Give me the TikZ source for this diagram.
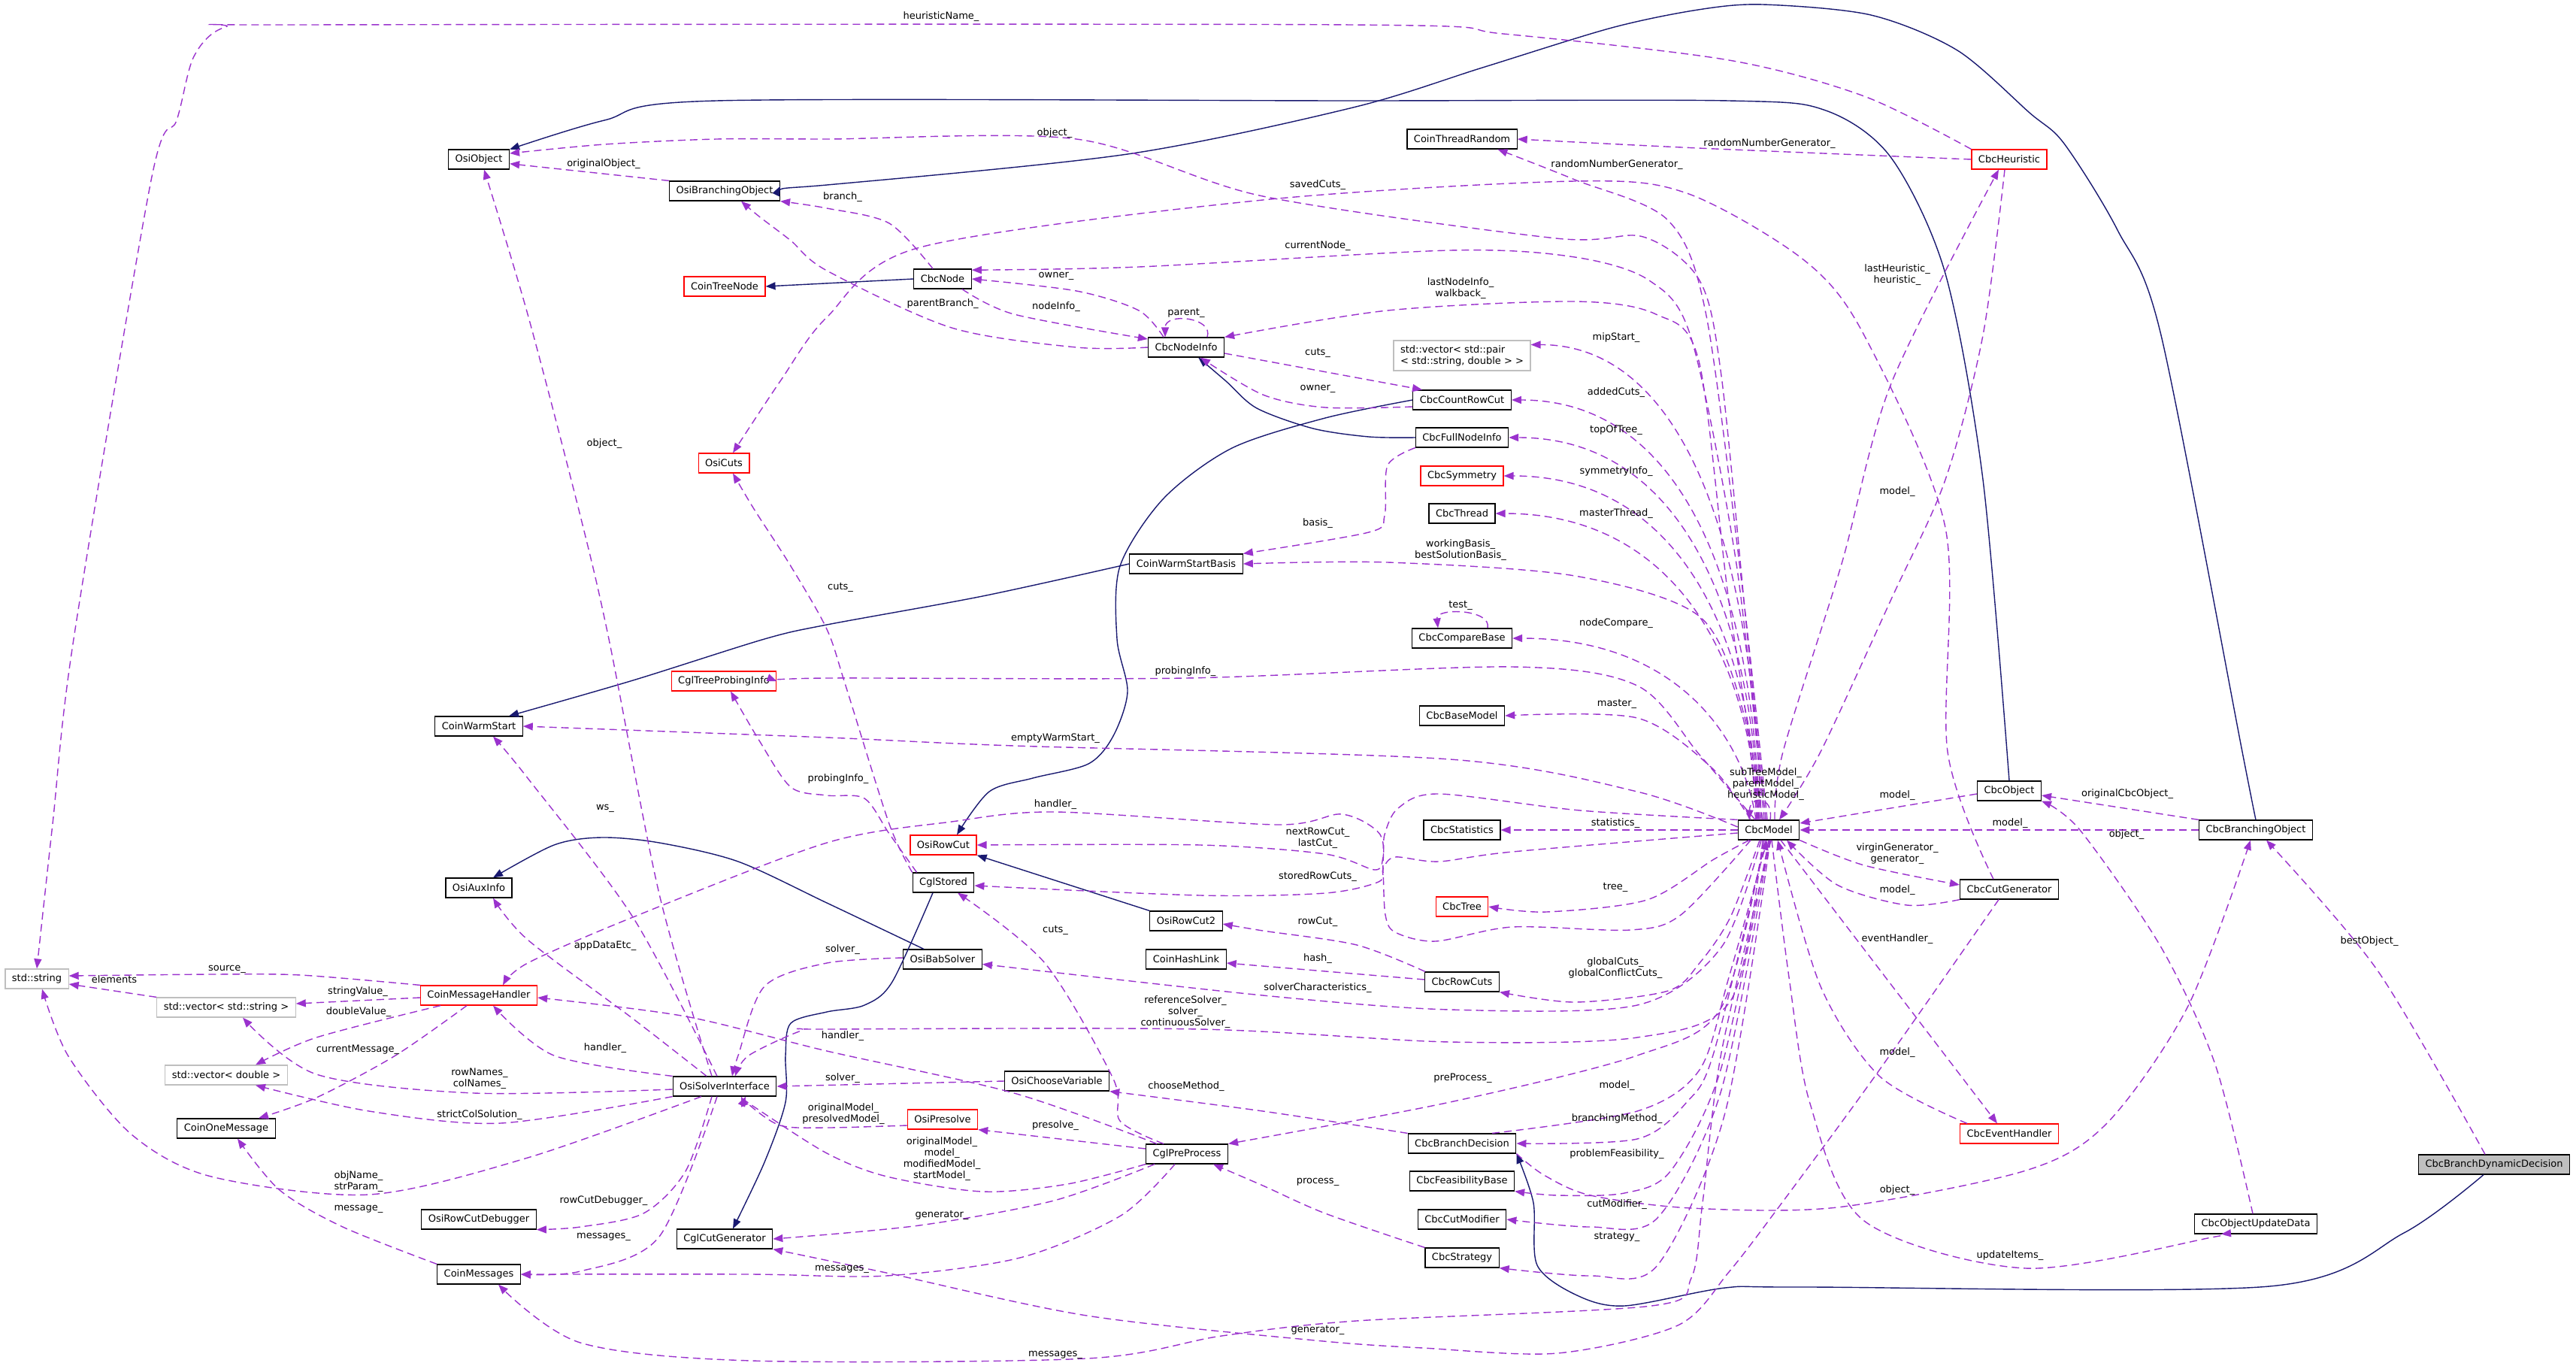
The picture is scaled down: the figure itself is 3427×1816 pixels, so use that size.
\documentclass[tikz,border=0pt]{standalone}
\usepackage{fontspec}
\setmainfont{DejaVu Sans}
\usetikzlibrary{arrows.meta}

\definecolor{depcol}{HTML}{9A32CD}
\definecolor{inhcol}{HTML}{191970}
\definecolor{extcol}{HTML}{BFBFBF}

\tikzset{
  cls/.style={draw=black, line width=0.6pt, fill=white, font=\fontsize{6.5}{7.5}\selectfont,
    inner xsep=4.5pt, inner ysep=0pt, minimum height=13pt},
  undoc/.style={cls, draw=red},
  ext/.style={cls, draw=extcol},
  focus/.style={cls, fill=extcol},
  lbl/.style={font=\fontsize{6.5}{7.5}\selectfont, align=center, inner sep=0pt},
  dep/.style={depcol, line width=0.7pt, dash pattern=on 5pt off 3pt, -{Triangle[length=6.5pt,width=5pt]}},
  inh/.style={inhcol, line width=0.7pt, -{Triangle[length=6.5pt,width=5pt]}},
}

\begin{document}
\begin{tikzpicture}[x=0.5pt, y=-0.5pt]
\useasboundingbox (0,0) rectangle (3427,1816);

% Classes
\node[cls] (OsiObject) at (637,212) {OsiObject};
\node[cls] (OsiBranchingObject) at (964,254) {OsiBranchingObject};
\node[undoc] (CoinTreeNode) at (964,381) {CoinTreeNode};
\node[undoc] (OsiCuts) at (963,616) {OsiCuts};
\node[undoc] (CglTreeProbingInfo) at (963,906) {CglTreeProbingInfo};
\node[cls] (CoinWarmStart) at (637,966) {CoinWarmStart};
\node[cls] (OsiAuxInfo) at (637,1181) {OsiAuxInfo};
\node[ext] (stdstr) at (49,1302) {std::string};
\node[ext] (vecstr) at (301,1340) {std::vector< std::string >};
\node[undoc] (CoinMessageHandler) at (637,1324) {CoinMessageHandler};
\node[ext] (vecdbl) at (301,1430) {std::vector< double >};
\node[cls] (CoinOneMessage) at (301,1501) {CoinOneMessage};
\node[cls] (OsiSolverInterface) at (964,1445) {OsiSolverInterface};
\node[cls] (OsiRowCutDebugger) at (637,1622) {OsiRowCutDebugger};
\node[cls] (CglCutGenerator) at (964,1648) {CglCutGenerator};
\node[cls] (CoinMessages) at (637,1695) {CoinMessages};
\node[cls] (CoinThreadRandom) at (1945,185) {CoinThreadRandom};
\node[cls] (CbcNode) at (1254,371) {CbcNode};
\node[cls] (CbcNodeInfo) at (1578,462) {CbcNodeInfo};
\node[ext, align=left, minimum height=20pt] (vecpair) at (1945,473) {std::vector< std::pair\\< std::string, double > >};
\node[cls] (CbcCountRowCut) at (1945,532) {CbcCountRowCut};
\node[cls] (CbcFullNodeInfo) at (1945,582) {CbcFullNodeInfo};
\node[undoc] (CbcSymmetry) at (1945,633) {CbcSymmetry};
\node[cls] (CbcThread) at (1945,683) {CbcThread};
\node[cls] (CoinWarmStartBasis) at (1578,750) {CoinWarmStartBasis};
\node[cls] (CbcCompareBase) at (1945,849) {CbcCompareBase};
\node[cls] (CbcBaseModel) at (1945,952) {CbcBaseModel};
\node[undoc] (OsiRowCut) at (1255,1124) {OsiRowCut};
\node[cls] (CbcStatistics) at (1945,1104) {CbcStatistics};
\node[cls] (CbcModel) at (2353,1104) {CbcModel};
\node[cls] (CglStored) at (1255,1174) {CglStored};
\node[undoc] (CbcTree) at (1945,1206) {CbcTree};
\node[cls] (OsiRowCut2) at (1578,1225) {OsiRowCut2};
\node[cls] (OsiBabSolver) at (1254,1276) {OsiBabSolver};
\node[cls] (CoinHashLink) at (1578,1276) {CoinHashLink};
\node[cls] (CbcRowCuts) at (1945,1306) {CbcRowCuts};
\node[cls] (OsiChooseVariable) at (1406,1438) {OsiChooseVariable};
\node[undoc] (OsiPresolve) at (1254,1489) {OsiPresolve};
\node[cls] (CglPreProcess) at (1579,1535) {CglPreProcess};
\node[cls] (CbcBranchDecision) at (1945,1521) {CbcBranchDecision};
\node[cls] (CbcFeasibilityBase) at (1945,1571) {CbcFeasibilityBase};
\node[cls] (CbcCutModifier) at (1945,1622) {CbcCutModifier};
\node[cls] (CbcStrategy) at (1945,1673) {CbcStrategy};
\node[undoc] (CbcHeuristic) at (2673,212) {CbcHeuristic};
\node[cls] (CbcObject) at (2673,1052) {CbcObject};
\node[cls] (CbcBranchingObject) at (3001,1104) {CbcBranchingObject};
\node[cls] (CbcCutGenerator) at (2673,1183) {CbcCutGenerator};
\node[undoc] (CbcEventHandler) at (2673,1508) {CbcEventHandler};
\node[focus] (CbcBranchDynamicDecision) at (3318,1549) {CbcBranchDynamicDecision};
\node[cls] (CbcObjectUpdateData) at (3001,1628) {CbcObjectUpdateData};

% Inheritance
\draw[inh] plot[smooth] coordinates {(CbcObject.north) (2638,638) (2588,364) (2516,210) (2429,147) (2300,134) (1800,134) (953,134) (804,160) (OsiObject.18)};
\draw[inh] plot[smooth] coordinates {(CbcBranchingObject.north) (2983,1000) (2875,446) (2817,306) (2746,191) (2700,150) (2604,67) (2489,20) (2345,6) (2259,13) (2144,37) (1972,90) (1800,143) (1500,205) (1100,246) (OsiBranchingObject.5)};
\draw[inh] (CbcNode.west) -- (CoinTreeNode.east);
\draw[inh] plot[smooth] coordinates {(CbcFullNodeInfo.west) (1821,581) (1747,570) (1672,543) (1631,507) (CbcNodeInfo.-40)};
\draw[inh] plot[smooth] coordinates {(CbcCountRowCut.west) (1763,556) (1639,596) (1548,663) (1490,753) (1486,850) (1500,920) (1481,979) (1448,1016) (1374,1035) (1316,1053) ([xshift=9pt]OsiRowCut.north)};
\draw[inh] (OsiRowCut2.north west) -- (OsiRowCut.south east);
\draw[inh] plot[smooth] coordinates {([xshift=-12.5pt]OsiBabSolver.north) (1100,1201) (982,1146) (877,1121) (800,1114) (737,1124) ([xshift=9.5pt]OsiAuxInfo.north)};
\draw[inh] plot[smooth] coordinates {([xshift=-7pt]CglStored.south) (1187,1306) (1150,1337) (1100,1346) (1052,1361) (1045,1404) (1045,1466) (1017,1546) ([xshift=5.5pt]CglCutGenerator.north)};
\draw[inh] plot[smooth] coordinates {(CoinWarmStartBasis.west) (1307,793) (1100,831) (1017,850) (842,905) ([xshift=20pt]CoinWarmStart.north)};
\draw[inh] plot[smooth] coordinates {([xshift=-7pt]CbcBranchDynamicDecision.south) (3198,1640) (3019,1711) (2400,1712) (2295,1713) (2161,1737) (2098,1723) (2045,1683) (2040,1600) (CbcBranchDecision.south east)};

% CbcModel, upper members
\draw[dep] plot[smooth] coordinates {([xshift=-2pt]CbcModel.north) (2325,850) (2290,500) (2261,373) (2186,315) (2070,317) (1680,261) (1432,185) (1100,185) (953,185) (804,192) (OsiObject.11)};
\draw[dep] plot[smooth] coordinates {([xshift=-1pt]CbcModel.north) (2320,800) (2270,420) (2219,293) (2095,239) (CoinThreadRandom.-16)};
\draw[dep] plot[smooth] coordinates {([xshift=-3pt]CbcModel.north) (2310,750) (2250,450) (2194,373) (2095,342) (1929,333) (1515,355) (CbcNode.17)};
\draw[dep] plot[smooth] coordinates {([xshift=-4pt]CbcModel.north) (2300,800) (2260,480) (2203,418) (2095,401) (1846,413) (CbcNodeInfo.north east)};
\draw[dep] ([xshift=-5pt]CbcModel.north) .. controls (2330,700) and (2230,458) .. (vecpair.9);
\draw[dep] ([xshift=-6pt]CbcModel.north) .. controls (2330,760) and (2230,532) .. (CbcCountRowCut.east);
\draw[dep] ([xshift=-6.5pt]CbcModel.north) .. controls (2330,800) and (2230,582) .. (CbcFullNodeInfo.east);
\draw[dep] ([xshift=-7pt]CbcModel.north) .. controls (2330,840) and (2230,633) .. (CbcSymmetry.east);
\draw[dep] ([xshift=-7.5pt]CbcModel.north) .. controls (2330,880) and (2230,683) .. (CbcThread.east);
\draw[dep] plot[smooth] coordinates {([xshift=-8pt]CbcModel.north) (2320,950) (2261,820) (2095,766) (1846,748) (CoinWarmStartBasis.east)};
\draw[dep] ([xshift=-8.5pt]CbcModel.north) .. controls (2320,980) and (2230,849) .. (CbcCompareBase.east);
\draw[dep] plot[smooth] coordinates {([xshift=-9pt]CbcModel.north) (2261,1004) (2178,912) (2012,887) (1577,902) (1100,902) (CglTreeProbingInfo.east)};
\draw[dep] plot[smooth] coordinates {([xshift=-12pt]CbcModel.north) (2278,1022) (2178,955) (CbcBaseModel.east)};
\draw[dep] plot[smooth] coordinates {([yshift=2pt]CbcModel.west) (2178,1053) (1929,1010) (1349,992) (1100,981) (CoinWarmStart.east)};
\draw[dep] ([xshift=1pt]CbcModel.north) .. controls (2360,1058) and (2328,1058) .. ([xshift=-13pt]CbcModel.north);
\draw[dep] plot[smooth] coordinates {([xshift=4pt]CbcModel.north) (2372,1000) (2450,750) (2516,510) ([xshift=-7pt]CbcHeuristic.south)};
\draw[dep] plot[smooth] coordinates {([xshift=-3pt]CbcHeuristic.south) (2638,446) (2588,638) (2516,797) (2422,1000) ([xshift=7pt]CbcModel.north)};
\draw[dep] plot[smooth] coordinates {(CbcHeuristic.north west) (2480,128) (2300,80) (2000,45) (1800,33) (400,33) (300,36) (258,75) (235,160) (201,240) (98,850) (70,1096) (stdstr.north)};
\draw[dep] plot[smooth] coordinates {(CbcHeuristic.west) (2259,197) (CoinThreadRandom.east)};
\draw[dep] plot[smooth] coordinates {([xshift=-10.5pt]CbcCutGenerator.north) (2591,1000) (2588,702) (2480,446) (2400,346) (2244,257) (2095,241) (1680,266) (1224,329) (1100,422) (1038,507) ([xshift=6pt]OsiCuts.north)};

% CbcModel, row cuts and handler loops
\draw[dep] plot[smooth] coordinates {([xshift=-12pt]CbcModel.south) (2236,1217) (2169,1237) (2012,1233) (1910,1252) (1856,1240) (1843,1217) (1840,1160) (1836,1110) (1785,1083) (1700,1097) (1404,1080) (1266,1093) (1100,1121) (842,1220) (702,1281) ([xshift=16pt]CoinMessageHandler.north)};
\draw[dep] plot[smooth] coordinates {(CbcModel.north west) (2102,1078) (1914,1056) (1860,1075) (1842,1110) (1840,1140) (1829,1157) (1763,1136) (1597,1124) (OsiRowCut.east)};
\draw[dep] plot[smooth] coordinates {([yshift=-2pt]CbcModel.west) (2012,1133) (1914,1146) (1856,1140) (1840,1155) (1834,1173) (1763,1188) (1597,1191) ([yshift=-2pt]CglStored.east)};
\draw[dep] (CbcModel.west) -- (CbcStatistics.east);

% CbcModel, lower members
\draw[dep] plot[smooth] coordinates {([xshift=-13pt]CbcModel.south) (2280,1143) (2191,1197) (2057,1213) (CbcTree.east)};
\draw[dep] plot[smooth] coordinates {([xshift=-6pt]CbcModel.south) (2302,1220) (2261,1281) (2219,1318) (2095,1333) (CbcRowCuts.south east)};
\draw[dep] plot[smooth] coordinates {([xshift=-5pt]CbcModel.south) (2290,1260) (2178,1337) (1929,1343) (1680,1324) (OsiBabSolver.-7)};
\draw[dep] plot[smooth] coordinates {([xshift=-4pt]CbcModel.south) (2303,1330) (2178,1380) (1929,1386) (1597,1369) (1100,1369) (1066,1371) (996,1404) ([xshift=7pt]OsiSolverInterface.north)};
\draw[dep] plot[smooth] coordinates {([xshift=-3pt]CbcModel.south) (2290,1340) (2178,1404) (1929,1466) (CglPreProcess.north east)};
\draw[dep] plot[smooth] coordinates {([xshift=-2pt]CbcModel.south) (2280,1400) (2244,1466) (2178,1515) (CbcBranchDecision.east)};
\draw[dep] plot[smooth] coordinates {([xshift=20pt]CbcBranchDecision.north) (2178,1478) (2261,1423) (2300,1300) ([xshift=-1pt]CbcModel.south)};
\draw[dep] plot[smooth] coordinates {(CbcModel.south) (2290,1420) (2223,1557) (2161,1587) (2072,1590) (CbcFeasibilityBase.south east)};
\draw[dep] plot[smooth] coordinates {([xshift=0.5pt]CbcModel.south) (2290,1450) (2205,1620) (2116,1632) (CbcCutModifier.east)};
\draw[dep] plot[smooth] coordinates {([xshift=1pt]CbcModel.south) (2295,1480) (2205,1683) (2116,1697) (CbcStrategy.south east)};
\draw[dep] plot[smooth] coordinates {([xshift=1.5pt]CbcModel.south) (2290,1400) (2265,1600) (2250,1700) (2197,1737) (1804,1757) (1625,1777) (1446,1807) (1000,1810) (772,1786) ([xshift=13pt]CoinMessages.south)};
\draw[dep] plot[smooth] coordinates {([xshift=2pt]CbcModel.south) (2380,1300) (2408,1468) (2480,1624) (2695,1687) (2947,1645) ([xshift=-23pt]CbcObjectUpdateData.south)};
\draw[dep] ([xshift=8pt]CbcModel.south) -- ([xshift=-8pt]CbcEventHandler.north);
\draw[dep] plot[smooth] coordinates {([xshift=-28pt]CbcEventHandler.north) (2501,1432) (2422,1312) ([xshift=6pt]CbcModel.south)};
\draw[dep] plot[smooth] coordinates {(CbcCutGenerator.south west) (2537,1204) (2444,1177) ([xshift=12pt]CbcModel.south)};
\draw[dep] plot[smooth] coordinates {(CbcModel.south east) (2480,1151) ([yshift=3pt]CbcCutGenerator.west)};

% right hand side
\draw[dep] ([yshift=-2pt]CbcObject.west) -- ([yshift=4.5pt]CbcModel.east);
\draw[dep] (CbcBranchingObject.west) -- (CbcModel.east);
\draw[dep] (CbcBranchingObject.north west) -- ([yshift=-3pt]CbcObject.east);
\draw[dep] plot[smooth] coordinates {([xshift=-2pt]CbcObjectUpdateData.north) (2947,1416) (2875,1260) (2767,1104) (CbcObject.south east)};
\draw[dep] plot[smooth] coordinates {([xshift=-6pt]CbcBranchDynamicDecision.north) (3163,1291) ([xshift=7pt]CbcBranchingObject.south)};
\draw[dep] plot[smooth] coordinates {(CbcBranchDecision.south east) (2054,1563) (2116,1590) (2250,1607) (2444,1606) (2695,1557) (2803,1494) (2911,1338) ([xshift=-3.5pt]CbcBranchingObject.south)};
\draw[dep] plot[smooth] coordinates {([xshift=-7pt]CbcCutGenerator.south) (2494,1432) (2372,1598) (2300,1692) (2232,1763) (2072,1800) (1893,1793) (1750,1783) (1446,1750) (1179,1693) (CglCutGenerator.south east)};

% node tree
\draw[dep] (OsiBranchingObject.north west) -- (OsiObject.-8);
\draw[dep] plot[smooth] coordinates {([xshift=-6.5pt]CbcNode.north) (1183,297) (1100,277) (OsiBranchingObject.south east)};
\draw[dep] plot[smooth] coordinates {(CbcNodeInfo.west) (1432,462) (1266,436) (1100,360) (1052,320) (1010,288) ([xshift=11pt]OsiBranchingObject.south)};
\draw[dep] plot[smooth] coordinates {([xshift=13pt]CbcNode.south) (1349,418) ([yshift=5.5pt]CbcNodeInfo.west)};
\draw[dep] plot[smooth] coordinates {([xshift=-15pt]CbcNodeInfo.north) (1515,413) (1432,387) (CbcNode.east)};
\draw[dep] ([xshift=14pt]CbcNodeInfo.north) .. controls (1615,422) and (1550,415) .. ([xshift=-14pt]CbcNodeInfo.north);
\draw[dep] ([yshift=-4pt]CbcNodeInfo.east) -- ([xshift=-26.5pt]CbcCountRowCut.north);
\draw[dep] plot[smooth] coordinates {([yshift=-4.5pt]CbcCountRowCut.west) (1763,542) (1680,525) ([xshift=9.5pt]CbcNodeInfo.south)};
\draw[dep] plot[smooth] coordinates {(CbcFullNodeInfo.south west) (1846,619) (1842,686) (1821,708) (CoinWarmStartBasis.north east)};
\draw[dep] ([xshift=17pt]CbcCompareBase.north) .. controls (1985,810) and (1910,808) .. ([xshift=-16pt]CbcCompareBase.north);

% cut generation and preprocessing
\draw[dep] plot[smooth] coordinates {(CglStored.north west) (1183,1096) (1125,912) (1100,837) (1052,753) (1003,677) ([xshift=6pt]OsiCuts.south)};
\draw[dep] plot[smooth] coordinates {([xshift=3pt]CglStored.north west) (1183,1109) (1150,1062) (1100,1058) (1052,1047) (1010,985) ([xshift=4.5pt]CglTreeProbingInfo.south)};
\draw[dep] plot[smooth] coordinates {([xshift=-15.5pt]CglPreProcess.north) (1490,1491) (1481,1435) (1390,1281) ([xshift=9.5pt]CglStored.south)};
\draw[dep] ([yshift=3.5pt]CglPreProcess.west) -- (OsiPresolve.south east);
\draw[dep] plot[smooth] coordinates {([xshift=-20pt]CglPreProcess.north) (1349,1454) (1100,1398) (912,1352) ([yshift=-1.5pt]CoinMessageHandler.east)};
\draw[dep] plot[smooth] coordinates {(CglPreProcess.south west) (1420,1575) (1307,1585) (1180,1565) (1100,1534) (1003,1472) ([xshift=11pt]OsiSolverInterface.south)};
\draw[dep] plot[smooth] coordinates {([yshift=-4pt]OsiPresolve.west) (1100,1500) (1038,1497) (996,1469) ([xshift=14pt]OsiSolverInterface.south)};
\draw[dep] (OsiChooseVariable.west) -- (OsiSolverInterface.east);
\draw[dep] plot[smooth] coordinates {([yshift=1pt]OsiBabSolver.west) (1100,1281) (1017,1312) (982,1404) ([xshift=5pt]OsiSolverInterface.north)};
\draw[dep] plot[smooth] coordinates {(CbcBranchDecision.north west) (1680,1478) (OsiChooseVariable.south east)};
\draw[dep] plot[smooth] coordinates {(CbcStrategy.north west) (1763,1614) (1680,1577) ([xshift=17.5pt]CglPreProcess.south)};
\draw[dep] plot[smooth] coordinates {([xshift=-24.5pt]CbcRowCuts.north) (1805,1257) (1680,1238) ([yshift=-2pt]OsiRowCut2.east)};
\draw[dep] ([yshift=1.5pt]CbcRowCuts.west) -- ([yshift=-2.5pt]CoinHashLink.east);
\draw[dep] plot[smooth] coordinates {([xshift=-21.5pt]CglPreProcess.south) (1402,1597) (1223,1630) (CglCutGenerator.east)};
\draw[dep] plot[smooth] coordinates {([xshift=-8pt]CglPreProcess.south) (1491,1617) (1357,1673) (1179,1697) (1000,1695) (CoinMessages.east)};

% solver interface
\draw[dep] plot[smooth] coordinates {([xshift=-8.5pt]OsiSolverInterface.north) (877,1189) (810,850) (772,686) (702,418) ([xshift=3.5pt]OsiObject.south)};
\draw[dep] plot[smooth] coordinates {([xshift=-5pt]OsiSolverInterface.north) (842,1220) (702,1035) ([xshift=9.5pt]CoinWarmStart.south)};
\draw[dep] plot[smooth] coordinates {([xshift=-12pt]OsiSolverInterface.north) (842,1355) (702,1250) ([xshift=9.5pt]OsiAuxInfo.south)};
\draw[dep] plot[smooth] coordinates {(OsiSolverInterface.north west) (737,1404) ([xshift=9.5pt]CoinMessageHandler.south)};
\draw[dep] plot[smooth] coordinates {([yshift=-2pt]OsiSolverInterface.west) (631,1454) (421,1429) ([xshift=11pt]vecstr.south)};
\draw[dep] plot[smooth] coordinates {(OsiSolverInterface.south west) (666,1494) (491,1478) ([xshift=19.5pt]vecdbl.south)};
\draw[dep] plot[smooth] coordinates {([xshift=-15.5pt]OsiSolverInterface.south) (702,1540) (491,1589) (281,1565) (175,1509) (91,1405) ([xshift=3.5pt]stdstr.south)};
\draw[dep] plot[smooth] coordinates {([xshift=-8.5pt]OsiSolverInterface.south) (912,1558) (856,1614) (772,1632) (OsiRowCutDebugger.south east)};
\draw[dep] plot[smooth] coordinates {([xshift=-5pt]OsiSolverInterface.south) (877,1645) (772,1691) (CoinMessages.east)};

% messages
\draw[dep] plot[smooth] coordinates {(CoinMessageHandler.north west) (400,1297) (281,1296) ([yshift=2pt]stdstr.east)};
\draw[dep] ([yshift=-1.5pt]CoinMessageHandler.west) -- ([yshift=2.5pt]vecstr.east);
\draw[dep] plot[smooth] coordinates {([xshift=-25.5pt]CoinMessageHandler.south) (421,1380) ([xshift=19.5pt]vecdbl.north)};
\draw[dep] plot[smooth] coordinates {([xshift=-8pt]CoinMessageHandler.south) (526,1404) (421,1460) ([xshift=21.5pt]CoinOneMessage.north)};
\draw[dep] (vecstr.north west) -- ([yshift=-3.5pt]stdstr.east);
\draw[dep] plot[smooth] coordinates {(CoinMessages.north west) (456,1632) (372,1583) ([xshift=7.5pt]CoinOneMessage.south)};

% Labels
\node[lbl] (l01) at (1252,22) {heuristicName\_};
\node[lbl] (l02) at (1403,177) {object\_};
\node[lbl] (l03) at (2354,191) {randomNumberGenerator\_};
\node[lbl] (l04) at (2151,219) {randomNumberGenerator\_};
\node[lbl] (l05) at (803,218) {originalObject\_};
\node[lbl] (l06) at (1753,246) {savedCuts\_};
\node[lbl] (l07) at (1121,262) {branch\_};
\node[lbl] (l08) at (1753,327) {currentNode\_};
\node[lbl] (l09) at (2524,366) {lastHeuristic\_\\heuristic\_};
\node[lbl] (l10) at (1405,367) {owner\_};
\node[lbl] (l11) at (1943,384) {lastNodeInfo\_\\walkback\_};
\node[lbl] (l12) at (1254,404) {parentBranch\_};
\node[lbl] (l13) at (1405,408) {nodeInfo\_};
\node[lbl] (l14) at (1578,416) {parent\_};
\node[lbl] (l15) at (2150,449) {mipStart\_};
\node[lbl] (l16) at (1753,469) {cuts\_};
\node[lbl] (l17) at (1753,517) {owner\_};
\node[lbl] (l18) at (2150,522) {addedCuts\_};
\node[lbl] (l19) at (2150,572) {topOfTree\_};
\node[lbl] (l20) at (804,590) {object\_};
\node[lbl] (l21) at (2150,627) {symmetryInfo\_};
\node[lbl] (l22) at (2524,654) {model\_};
\node[lbl] (l23) at (2150,683) {masterThread\_};
\node[lbl] (l24) at (1753,696) {basis\_};
\node[lbl] (l25) at (1943,732) {workingBasis\_\\bestSolutionBasis\_};
\node[lbl] (l26) at (1118,781) {cuts\_};
\node[lbl] (l27) at (1943,805) {test\_};
\node[lbl] (l28) at (2150,829) {nodeCompare\_};
\node[lbl] (l29) at (1577,893) {probingInfo\_};
\node[lbl] (l30) at (2151,936) {master\_};
\node[lbl] (l31) at (1404,982) {emptyWarmStart\_};
\node[lbl] (l32) at (1115,1036) {probingInfo\_};
\node[lbl] (l33) at (2349,1043) {subTreeModel\_\\parentModel\_\\heuristicModel\_};
\node[lbl] (l34) at (2524,1058) {model\_};
\node[lbl] (l35) at (2830,1056) {originalCbcObject\_};
\node[lbl] (l36) at (1404,1070) {handler\_};
\node[lbl] (l37) at (805,1075) {ws\_};
\node[lbl] (l38) at (2149,1095) {statistics\_};
\node[lbl] (l39) at (2674,1095) {model\_};
\node[lbl] (l40) at (1753,1115) {nextRowCut\_\\lastCut\_};
\node[lbl] (l41) at (2829,1110) {object\_};
\node[lbl] (l42) at (2524,1136) {virginGenerator\_\\generator\_};
\node[lbl] (l43) at (1753,1166) {storedRowCuts\_};
\node[lbl] (l44) at (2149,1180) {tree\_};
\node[lbl] (l45) at (2524,1184) {model\_};
\node[lbl] (l46) at (1753,1226) {rowCut\_};
\node[lbl] (l47) at (1404,1237) {cuts\_};
\node[lbl] (l48) at (2524,1249) {eventHandler\_};
\node[lbl] (l49) at (3152,1252) {bestObject\_};
\node[lbl] (l50) at (805,1258) {appDataEtc\_};
\node[lbl] (l51) at (1121,1263) {solver\_};
\node[lbl] (l52) at (1753,1275) {hash\_};
\node[lbl] (l53) at (2149,1288) {globalCuts\_\\globalConflictCuts\_};
\node[lbl] (l54) at (302,1289) {source\_};
\node[lbl] (l55) at (152,1303) {elements};
\node[lbl] (l56) at (1753,1314) {solverCharacteristics\_};
\node[lbl] (l57) at (476,1319) {stringValue\_};
\node[lbl] (l58) at (1577,1346) {referenceSolver\_\\solver\_\\continuousSolver\_};
\node[lbl] (l59) at (477,1346) {doubleValue\_};
\node[lbl] (l60) at (1121,1378) {handler\_};
\node[lbl] (l61) at (805,1394) {handler\_};
\node[lbl] (l62) at (476,1396) {currentMessage\_};
\node[lbl] (l63) at (2524,1400) {model\_};
\node[lbl] (l64) at (638,1435) {rowNames\_\\colNames\_};
\node[lbl] (l65) at (1946,1434) {preProcess\_};
\node[lbl] (l66) at (1121,1434) {solver\_};
\node[lbl] (l67) at (2151,1444) {model\_};
\node[lbl] (l68) at (1578,1445) {chooseMethod\_};
\node[lbl] (l69) at (1122,1482) {originalModel\_\\presolvedModel\_};
\node[lbl] (l70) at (638,1483) {strictColSolution\_};
\node[lbl] (l71) at (2151,1488) {branchingMethod\_};
\node[lbl] (l72) at (1404,1497) {presolve\_};
\node[lbl] (l73) at (1253,1542) {originalModel\_\\model\_\\modifiedModel\_\\startModel\_};
\node[lbl] (l74) at (2151,1535) {problemFeasibility\_};
\node[lbl] (l75) at (477,1572) {objName\_\\strParam\_};
\node[lbl] (l76) at (1753,1572) {process\_};
\node[lbl] (l77) at (2524,1583) {object\_};
\node[lbl] (l78) at (803,1597) {rowCutDebugger\_};
\node[lbl] (l79) at (2151,1602) {cutModifier\_};
\node[lbl] (l80) at (477,1608) {message\_};
\node[lbl] (l81) at (1253,1616) {generator\_};
\node[lbl] (l82) at (2151,1645) {strategy\_};
\node[lbl] (l83) at (803,1645) {messages\_};
\node[lbl] (l84) at (2674,1670) {updateItems\_};
\node[lbl] (l85) at (1120,1688) {messages\_};
\node[lbl] (l86) at (1753,1769) {generator\_};
\node[lbl] (l87) at (1404,1802) {messages\_};

\end{tikzpicture}
\end{document}
